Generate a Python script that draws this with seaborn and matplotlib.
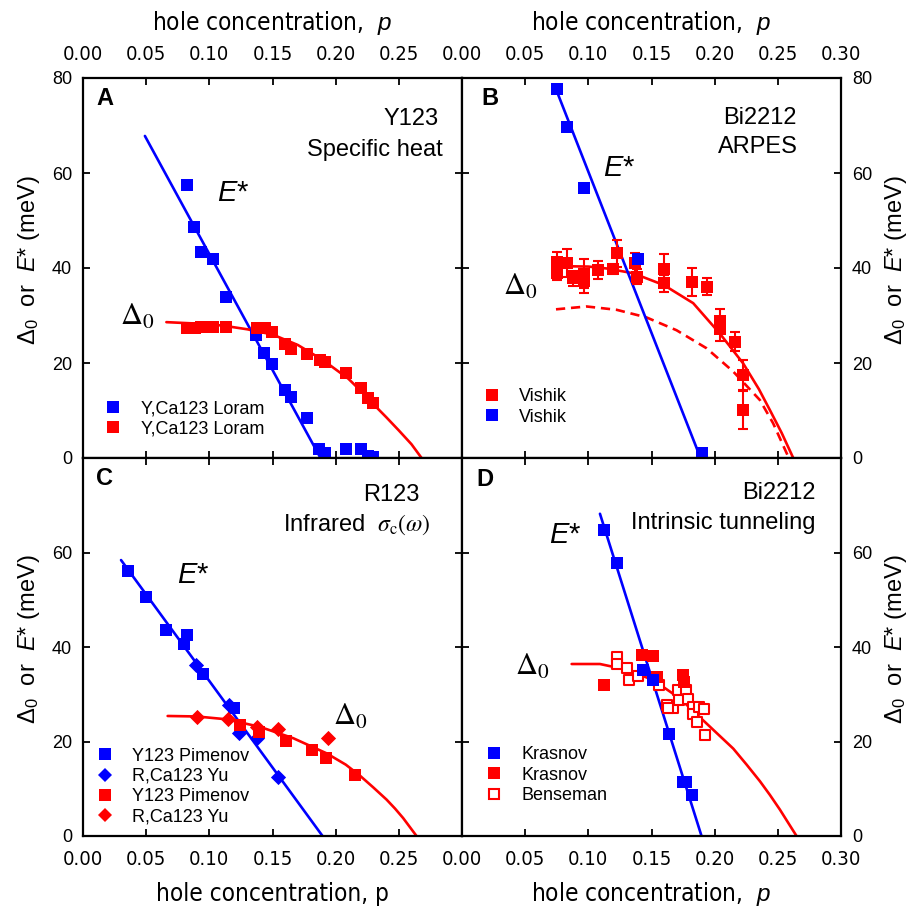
import numpy as np
import pandas as pd
import matplotlib
matplotlib.use("Agg")
import matplotlib.pyplot as plt
from matplotlib.lines import Line2D
from matplotlib import font_manager
from matplotlib.font_manager import FontProperties
import seaborn as sns

# ---------------- data ----------------
xticks = [0.00, 0.05, 0.10, 0.15, 0.20, 0.25, 0.30]
xtick_labels = ["0.00", "0.05", "0.10", "0.15", "0.20", "0.25", "0.30"]
yticks = [0, 20, 40, 60, 80]
ytick_labels = ["0", "20", "40", "60", "80"]

# Panel A : Y123 specific heat (Loram)
a_E_p = [0.0825, 0.088, 0.0931, 0.1031, 0.1131, 0.1369, 0.1432, 0.1495, 0.160, 0.1648, 0.177, 0.1872, 0.1917, 0.2078, 0.220, 0.2257, 0.2297]
a_E_v = [57.4, 48.6, 43.3, 42.0, 34.0, 26.0, 22.2, 19.7, 14.3, 12.9, 8.5, 2.0, 1.0, 1.8, 1.8, 0.4, 0.3]
a_D_p = [0.0825, 0.0883, 0.0931, 0.1031, 0.1131, 0.1374, 0.1437, 0.1495, 0.1595, 0.1648, 0.177, 0.1875, 0.1917, 0.2078, 0.220, 0.2257, 0.2297]
a_D_v = [27.3, 27.3, 27.5, 27.6, 27.5, 27.4, 27.3, 26.5, 24.1, 22.9, 21.9, 20.6, 20.2, 17.8, 14.7, 12.6, 11.5]
a_Eline_p = [0.049, 0.188]
a_Eline_v = [67.8, 0.0]
a_Dfit_p = [0.066, 0.09, 0.11, 0.13, 0.15, 0.17, 0.19, 0.21, 0.22, 0.23, 0.24, 0.25, 0.26, 0.268]
a_Dfit_v = [28.6, 28.3, 27.9, 27.1, 26.0, 23.8, 20.6, 16.7, 14.1, 11.3, 8.6, 5.8, 2.9, 0.0]

# Panel B : Bi2212 ARPES (Vishik)
b_E_p = [0.0749, 0.0833, 0.0965, 0.1395, 0.1896]
b_E_v = [77.6, 69.7, 56.8, 41.8, 1.1]
b_D_p = [0.0749, 0.0749, 0.0833, 0.0876, 0.0965, 0.0965, 0.1079, 0.1197, 0.1224, 0.1369, 0.1382, 0.1598, 0.1598, 0.1817, 0.1941, 0.2041, 0.2041, 0.2162, 0.2221, 0.2221]
b_D_v = [41.3, 38.9, 41.1, 37.8, 38.8, 37.3, 39.6, 39.8, 43.1, 41.0, 38.2, 39.7, 36.8, 37.0, 36.1, 28.8, 27.2, 24.5, 17.5, 10.1]
b_D_err = [2.0, 1.5, 3.0, 1.5, 3.0, 2.5, 1.9, 1.0, 2.8, 2.1, 1.5, 3.2, 1.8, 2.9, 1.8, 2.5, 2.5, 2.0, 3.2, 4.0]
b_Eline_p = [0.0736, 0.1888]
b_Eline_v = [78.2, 0.0]
b_Dfit_p = [0.075, 0.10, 0.1145, 0.1355, 0.1598, 0.183, 0.2041, 0.2226, 0.235, 0.2437, 0.253, 0.2622]
b_Dfit_v = [40.4, 40.3, 39.9, 38.9, 36.4, 32.6, 26.2, 19.9, 14.5, 10.1, 5.3, 0.0]
b_Ddash_p = [0.0744, 0.0986, 0.1224, 0.146, 0.1698, 0.1936, 0.2147, 0.2358, 0.2463, 0.2582]
b_Ddash_v = [31.3, 31.9, 31.2, 29.6, 26.9, 23.1, 18.2, 12.2, 7.3, 0.3]

# Panel C : R123 infrared (Pimenov, Yu)
c_Esq_p = [0.0359, 0.0498, 0.0657, 0.0799, 0.0825, 0.0952, 0.1193]
c_Esq_v = [56.0, 50.6, 43.6, 40.6, 42.5, 34.2, 27.0]
c_Edi_p = [0.0894, 0.1155, 0.1237, 0.1374, 0.1545]
c_Edi_v = [36.2, 27.8, 21.7, 20.8, 12.5]
c_Dsq_p = [0.1242, 0.1395, 0.1603, 0.1809, 0.192, 0.2152]
c_Dsq_v = [23.5, 22.1, 20.1, 18.3, 16.6, 13.0]
c_Ddi_p = [0.090, 0.115, 0.1374, 0.1545, 0.194]
c_Ddi_v = [25.2, 24.7, 23.1, 22.6, 20.8]
c_Eline_p = [0.0301, 0.1896]
c_Eline_v = [58.4, 0.0]
c_Dfit_p = [0.067, 0.09, 0.1137, 0.14, 0.1664, 0.1928, 0.2080, 0.2191, 0.2297, 0.2403, 0.247, 0.2534, 0.264]
c_Dfit_v = [25.4, 25.3, 24.7, 23.1, 20.7, 17.5, 15.1, 12.8, 10.3, 7.7, 5.8, 3.8, 0.0]

# Panel D : Bi2212 intrinsic tunneling (Krasnov, Benseman)
d_E_p = [0.1123, 0.1224, 0.143, 0.1514, 0.164, 0.1746, 0.1772, 0.1817]
d_E_v = [64.8, 57.8, 35.2, 33.1, 21.6, 11.5, 11.5, 8.7]
d_Dk_p = [0.1123, 0.1421, 0.1514, 0.154, 0.1746, 0.1756]
d_Dk_v = [31.9, 38.3, 38.0, 33.7, 34.0, 32.6]
d_Db_p = [0.1224, 0.1224, 0.1303, 0.1324, 0.1395, 0.1561, 0.1619, 0.1672, 0.1632, 0.1712, 0.172, 0.1772, 0.1791, 0.183, 0.183, 0.1857, 0.1878, 0.1915, 0.1922]
d_Db_v = [37.9, 36.5, 35.5, 33.1, 33.8, 31.9, 27.7, 27.0, 27.0, 30.9, 28.8, 30.9, 29.1, 27.3, 25.9, 24.2, 27.3, 26.8, 21.4]
d_Eline_p = [0.1092, 0.1896]
d_Eline_v = [68.2, 0.0]
d_Dfit_p = [0.0868, 0.1092, 0.1303, 0.1514, 0.1725, 0.1936, 0.2147, 0.2253, 0.2358, 0.2437, 0.2516, 0.2648]
d_Dfit_v = [36.4, 36.4, 35.2, 33.0, 29.1, 23.8, 18.5, 15.1, 11.6, 8.7, 5.6, 0.0]

# ---------------- style ----------------
sns.set_theme(style="white")

def have(name):
    try:
        font_manager.findfont(FontProperties(family=name), fallback_to_default=False)
        return True
    except Exception:
        return False

SANS = "Liberation Sans" if have("Liberation Sans") else "DejaVu Sans"

def narrow_props(size):
    for fam in ["Liberation Sans Narrow", "Arial Narrow"]:
        if have(fam):
            return FontProperties(family=fam, size=size)
    try:
        fp = FontProperties(family="DejaVu Sans", stretch="condensed", size=size)
        f = font_manager.findfont(fp, fallback_to_default=False)
        if "Condensed" in f:
            return fp
    except Exception:
        pass
    return FontProperties(family=SANS, size=size)

plt.rcParams["font.family"] = [SANS, "DejaVu Sans"]
plt.rcParams["mathtext.fontset"] = "custom"
plt.rcParams["mathtext.rm"] = SANS
plt.rcParams["mathtext.it"] = SANS + ":italic"
plt.rcParams["mathtext.bf"] = SANS + ":bold"
for k in ["text.color", "axes.labelcolor", "xtick.color", "ytick.color", "axes.edgecolor"]:
    plt.rcParams[k] = "black"

BLUE = "#0000ff"
RED = "#ff0000"

W, H = 910, 909
fig = plt.figure(figsize=(W / 100, H / 100), dpi=100)
fig.patch.set_facecolor("white")

def rect(x0, y0, x1, y1):
    return [x0 / W, 1 - y1 / H, (x1 - x0) / W, (y1 - y0) / H]

axA = fig.add_axes(rect(83, 78, 462, 458))
axB = fig.add_axes(rect(462, 78, 841, 458))
axC = fig.add_axes(rect(83, 458, 462, 836))
axD = fig.add_axes(rect(462, 458, 841, 836))

XT_FP = narrow_props(14.5)
XLAB_FP = narrow_props(17.5)
YT_FS = 13

def setup(ax, top, left, show_last_x, show_top_y):
    ax.set_xlim(0, 0.30)
    ax.set_ylim(0, 80)
    ax.set_facecolor("white")
    for s in ax.spines.values():
        s.set_linewidth(1.6)
        s.set_color("black")
    xl = list(xtick_labels)
    if not show_last_x:
        xl[-1] = ""
    yl = list(ytick_labels)
    if not show_top_y:
        yl[-1] = ""
    ax.set_xticks(xticks, labels=xl)
    ax.set_yticks(yticks, labels=yl)
    ax.tick_params(axis="both", direction="in", length=5, width=1.3, colors="black",
                   top=True, bottom=True, left=True, right=True)
    ax.tick_params(axis="x", labeltop=top, labelbottom=not top, pad=10)
    ax.tick_params(axis="y", labelleft=left, labelright=not left, pad=8)
    for t in ax.get_xticklabels():
        t.set_fontproperties(XT_FP)
    for t in ax.get_yticklabels():
        t.set_fontsize(YT_FS)
    ax.grid(False)

setup(axA, top=True, left=True, show_last_x=False, show_top_y=True)
setup(axB, top=True, left=False, show_last_x=True, show_top_y=True)
setup(axC, top=False, left=True, show_last_x=False, show_top_y=False)
setup(axD, top=False, left=False, show_last_x=True, show_top_y=False)

# axis labels
ylab = r"$\Delta_0$  or  $E$* (meV)"
for ax, side in [(axA, "left"), (axC, "left"), (axB, "right"), (axD, "right")]:
    ax.set_ylabel(ylab, fontsize=17, rotation=90)
    if side == "right":
        ax.yaxis.set_label_position("right")
        ax.yaxis.set_label_coords(1.111, 0.52)
    else:
        ax.yaxis.set_label_coords(-0.108, 0.52)

for ax in (axA, axB):
    ax.xaxis.set_label_position("top")
    ax.set_xlabel(r"hole concentration,  $\it{p}$", fontproperties=XLAB_FP)
    ax.xaxis.label.set_va("center")
    ax.xaxis.set_label_coords(0.5, 1.145)
axC.set_xlabel("hole concentration, p", fontproperties=XLAB_FP)
axD.set_xlabel(r"hole concentration,  $\it{p}$", fontproperties=XLAB_FP)
for ax in (axC, axD):
    ax.xaxis.label.set_va("center")
    ax.xaxis.set_label_coords(0.5, -0.153)

LW = 1.9
SQ = 85
DI = 60

def line(ax, x, y, color, ls="-"):
    sns.lineplot(x=x, y=y, ax=ax, color=color, linewidth=LW, linestyle=ls,
                 sort=False, estimator=None, legend=False, zorder=2)

def pts(ax, x, y, color, marker="s", s=SQ, filled=True, z=3):
    if filled:
        sns.scatterplot(x=x, y=y, ax=ax, color=color, marker=marker, s=s,
                        linewidth=0, legend=False, zorder=z)
    else:
        sns.scatterplot(x=x, y=y, ax=ax, marker=marker, s=s, facecolor="white",
                        edgecolor=color, linewidth=1.5, legend=False, zorder=z)

# ---- Panel A
line(axA, a_Eline_p, a_Eline_v, BLUE)
line(axA, a_Dfit_p, a_Dfit_v, RED)
pts(axA, a_E_p, a_E_v, BLUE, z=3)
pts(axA, a_D_p, a_D_v, RED, z=4)

# ---- Panel B
line(axB, b_Ddash_p, b_Ddash_v, RED, ls=(0, (3.5, 2.2)))
line(axB, b_Dfit_p, b_Dfit_v, RED)
axB.errorbar(b_D_p, b_D_v, yerr=b_D_err, fmt="none", ecolor=RED, elinewidth=1.5,
             capsize=3.5, capthick=1.5, zorder=3)
pts(axB, b_D_p, b_D_v, RED, z=4)
line(axB, b_Eline_p, b_Eline_v, BLUE)
pts(axB, b_E_p, b_E_v, BLUE, z=5)

# ---- Panel C
line(axC, c_Eline_p, c_Eline_v, BLUE)
line(axC, c_Dfit_p, c_Dfit_v, RED)
pts(axC, c_Esq_p, c_Esq_v, BLUE, z=3)
pts(axC, c_Edi_p, c_Edi_v, BLUE, marker="D", s=DI, z=3)
pts(axC, c_Dsq_p, c_Dsq_v, RED, z=4)
pts(axC, c_Ddi_p, c_Ddi_v, RED, marker="D", s=DI, z=4)

# ---- Panel D
line(axD, d_Dfit_p, d_Dfit_v, RED)
pts(axD, d_Db_p, d_Db_v, RED, s=55, filled=False, z=3)
pts(axD, d_Dk_p, d_Dk_v, RED, z=4)
line(axD, d_Eline_p, d_Eline_v, BLUE)
pts(axD, d_E_p, d_E_v, BLUE, z=5)

# ---------------- annotations ----------------
TFS = 17
def panel_text(ax, letter, lx, ly, l1, l2, x1, y1, x2, y2, ex, ey, dx, dy):
    ax.text(lx, ly, letter, transform=ax.transAxes, fontsize=17, fontweight="bold",
            ha="center", va="center")
    ax.text(x1, y1, l1, transform=ax.transAxes, fontsize=TFS, ha="right", va="center")
    ax.text(x2, y2, l2, transform=ax.transAxes, fontsize=TFS, ha="right", va="center",
            math_fontfamily="stix")
    ax.text(ex, ey, r"$E$*", transform=ax.transAxes, fontsize=21, ha="left", va="center")
    ax.text(dx, dy, r"$\Delta_0$", transform=ax.transAxes, fontsize=22, ha="left",
            va="center", math_fontfamily="stix")

panel_text(axA, "A", 0.058, 0.945, "Y123", "Specific heat", 0.939, 0.892, 0.950, 0.811,
           0.354, 0.697, 0.098, 0.371)
panel_text(axB, "B", 0.074, 0.947, "Bi2212", "ARPES", 0.884, 0.895, 0.887, 0.818,
           0.372, 0.763, 0.108, 0.45)
panel_text(axC, "C", 0.058, 0.947, "R123", r"Infrared  $\sigma_{\mathrm{c}}(\omega)$", 0.889, 0.902, 0.916, 0.823,
           0.248, 0.690, 0.660, 0.315)
panel_text(axD, "D", 0.061, 0.942, "Bi2212", "Intrinsic tunneling", 0.934, 0.907, 0.934, 0.828,
           0.230, 0.796, 0.140, 0.447)

# ---------------- legends ----------------
def sq(color, marker="s", filled=True, ms=9.2):
    if filled:
        return Line2D([], [], ls="", marker=marker, color=color, markersize=ms, markeredgewidth=0)
    return Line2D([], [], ls="", marker=marker, markerfacecolor="white", markeredgecolor=color,
                  markersize=7.5, markeredgewidth=1.5)

def leg(ax, handles, labels, x, y, pad):
    ax.legend(handles=handles, labels=labels, loc="lower left", bbox_to_anchor=(x, y),
              frameon=False, fontsize=13, handlelength=1.0, handletextpad=pad,
              labelspacing=0.18, borderpad=0, borderaxespad=0, labelcolor="black")

leg(axA, [sq(BLUE), sq(RED)], ["Y,Ca123 Loram", "Y,Ca123 Loram"], 0.055, 0.054, 1.05)
leg(axB, [sq(RED), sq(BLUE)], ["Vishik", "Vishik"], 0.055, 0.0855, 1.0)
leg(axC, [sq(BLUE), sq(BLUE, "D", ms=7.5), sq(RED), sq(RED, "D", ms=7.5)],
    ["Y123 Pimenov", "R,Ca123 Yu", "Y123 Pimenov", "R,Ca123 Yu"], 0.034, 0.028, 0.98)
leg(axD, [sq(BLUE), sq(RED), sq(RED, filled=False)], ["Krasnov", "Krasnov", "Benseman"],
    0.0615, 0.085, 0.98)

fig.savefig("out.png", dpi=100, facecolor="white")
